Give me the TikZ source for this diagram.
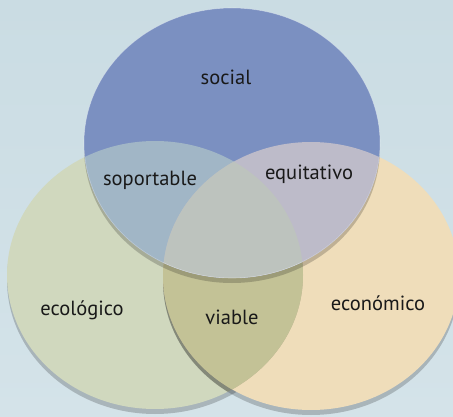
\documentclass[tikz,border=0pt]{standalone}
\usepackage{fontspec}
\setmainfont{PT Sans}
\begin{document}
\begin{tikzpicture}[x=1pt,y=-1pt,
  lbl/.style={font=\fontsize{20.5}{24}\selectfont, text=black!90, inner sep=0pt},
  shadowfill/.style={fill=black, opacity=0.2}]
\definecolor{bgtop}{RGB}{202,220,227}
\definecolor{bgbot}{RGB}{212,227,233}
\definecolor{cblue}{RGB}{123,144,193}
\definecolor{cgreen}{RGB}{208,216,190}
\definecolor{corange}{RGB}{239,221,186}
\definecolor{csop}{RGB}{161,182,198}
\definecolor{cequ}{RGB}{189,187,201}
\definecolor{cvia}{RGB}{195,194,150}
\definecolor{ccen}{RGB}{189,195,190}
\def\TopE{(232,143) ellipse [x radius=148, y radius=135]}
\def\TopS{(232,148) ellipse [x radius=148, y radius=135]}
\def\LeftE{(155,275) ellipse [x radius=148, y radius=134]}
\def\LeftS{(155,280) ellipse [x radius=148, y radius=134]}
\def\RightE{(311,276) ellipse [x radius=148, y radius=134]}
\def\RightS{(311,281) ellipse [x radius=148, y radius=134]}
\useasboundingbox (0,0) rectangle (453,417);
\shade[top color=bgtop, bottom color=bgbot] (0,0) rectangle (453,417);
\begin{scope}
  \clip (0,0) rectangle (453,417);
  % ecologico
  \fill[shadowfill] \LeftS;
  \fill[cgreen] \LeftE;
  % economico
  \fill[shadowfill] \RightS;
  \fill[corange] \RightE;
  \begin{scope}
    \clip \LeftE;
    \fill[shadowfill] \RightS;
    \fill[cvia] \RightE;
  \end{scope}
  % social
  \fill[shadowfill] \TopS;
  \fill[cblue] \TopE;
  \begin{scope}
    \clip \TopE;
    \fill[csop] \LeftE;
    \fill[cequ] \RightE;
    \clip \LeftE;
    \fill[ccen] \RightE;
  \end{scope}
  \draw[white, opacity=0.35, line width=0.6pt] \TopE;
\end{scope}
\node[lbl] (social) at (226,77) {social};
\node[lbl] (sop) at (150,180) {soportable};
\node[lbl] (equ) at (309,174) {equitativo};
\node[lbl] (eco) at (82,310) {ecológico};
\node[lbl] (via) at (232,317) {viable};
\node[lbl] (econ) at (378,303) {económico};
\end{tikzpicture}
\end{document}
